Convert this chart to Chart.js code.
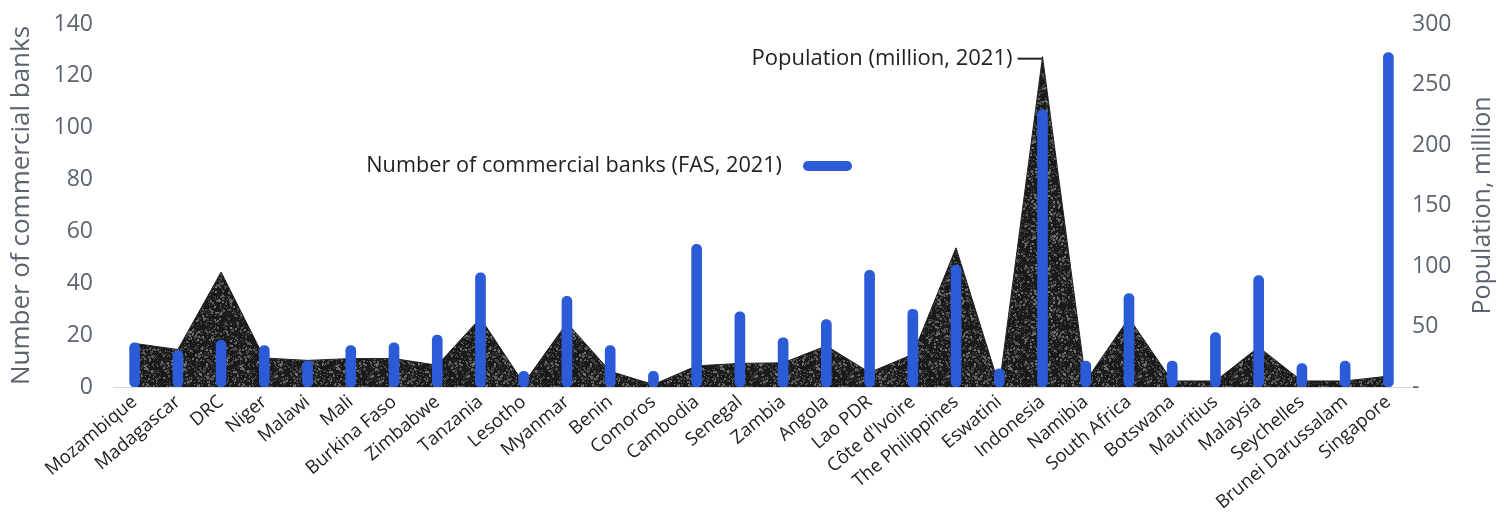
<!DOCTYPE html>
<html>
<head>
<meta charset="utf-8">
<script src="https://cdn.jsdelivr.net/npm/chart.js@4.4.1/dist/chart.umd.min.js"></script>
<style>
  html, body { margin: 0; padding: 0; background: #fff; }
  #wrap { width: 1509px; height: 515px; position: relative; }
</style>
</head>
<body>
<div id="wrap"><canvas id="chart"></canvas></div>
<script>
const countries = [
  "Mozambique", "Madagascar", "DRC", "Niger", "Malawi", "Mali", "Burkina Faso",
  "Zimbabwe", "Tanzania", "Lesotho", "Myanmar", "Benin", "Comoros", "Cambodia",
  "Senegal", "Zambia", "Angola", "Lao PDR", "Côte d'Ivoire", "The Philippines",
  "Eswatini", "Indonesia", "Namibia", "South Africa", "Botswana", "Mauritius",
  "Malaysia", "Seychelles", "Brunei Darussalam", "Singapore"
];
// number of commercial banks (left axis)
const banks = [
  17, 14, 18, 16, 10, 16, 17, 20, 44, 6, 35, 16, 6, 55, 29, 19, 26, 45, 30, 47,
  7, 107, 10, 36, 10, 21, 43, 9, 10, 129
];
// population, million (right axis)
const population = [
  36, 31, 95, 24, 22, 23.5, 23.5, 18, 57, 3, 53, 13, 2, 17.5, 19.5, 20, 34, 12,
  27, 115, 1, 273, 5, 57, 5, 5, 33, 5, 5, 9
];
const bankLabel = "Number of commercial banks (FAS, 2021)";
const popLabel = "Population (million, 2021)";
const leftTitle = "Number of commercial banks";
const rightTitle = "Population, million";

const FONT = "'Open Sans', sans-serif";
const BLUE = "#2b5bd7";
const GREY = "#5b6470";

// dark grainy fill like the original print texture
function grainPattern() {
  const c = document.createElement("canvas");
  c.width = 96;
  c.height = 96;
  const g = c.getContext("2d");
  g.fillStyle = "#1a1a1a";
  g.fillRect(0, 0, 96, 96);
  let seed = 12345;
  const rnd = () => {
    seed = (seed * 1103515245 + 12345) % 2147483648;
    return seed / 2147483648;
  };
  for (let i = 0; i < 1700; i++) {
    const x = Math.floor(rnd() * 96);
    const y = Math.floor(rnd() * 96);
    const v = 45 + Math.floor(rnd() * 75);
    g.fillStyle = `rgb(${v},${v},${v})`;
    const s = rnd() < 0.35 ? 2 : 1;
    g.fillRect(x, y, s, s);
  }
  return g.createPattern(c, "repeat");
}

const annotations = {
  id: "annotations",
  afterDatasetsDraw(chart) {
    const { ctx, chartArea, scales } = chart;
    ctx.save();
    // population label pointing at the Indonesia peak
    const px = scales.x.getPixelForValue(21);
    const py = scales.y1.getPixelForValue(population[21]) + 2;
    ctx.strokeStyle = "#222";
    ctx.lineWidth = 2;
    ctx.beginPath();
    ctx.moveTo(px - 25, py);
    ctx.lineTo(px, py);
    ctx.stroke();
    ctx.font = `22px ${FONT}`;
    ctx.fillStyle = "#222";
    ctx.textAlign = "right";
    ctx.textBaseline = "middle";
    ctx.fillText(popLabel, px - 30, py);
    // banks legend
    ctx.font = `21.7px ${FONT}`;
    ctx.fillText(bankLabel, 782, 166);
    ctx.strokeStyle = BLUE;
    ctx.lineWidth = 10;
    ctx.lineCap = "round";
    ctx.beginPath();
    ctx.moveTo(808, 166);
    ctx.lineTo(847, 166);
    ctx.stroke();
    // right axis title, reading bottom to top
    ctx.translate(1483, (chartArea.top + chartArea.bottom) / 2);
    ctx.rotate(-Math.PI / 2);
    ctx.textAlign = "center";
    ctx.fillStyle = GREY;
    ctx.font = `25px ${FONT}`;
    ctx.fillText(rightTitle, 0, 0);
    ctx.restore();
  },
};

new Chart(document.getElementById("chart"), {
  data: {
    labels: countries,
    datasets: [
      {
        type: "bar",
        label: bankLabel,
        data: banks,
        yAxisID: "y",
        backgroundColor: BLUE,
        barThickness: 10,
        borderRadius: 5,
        borderSkipped: false,
        order: 0,
      },
      {
        type: "line",
        label: popLabel,
        data: population,
        yAxisID: "y1",
        backgroundColor: grainPattern(),
        borderColor: "#222",
        borderWidth: 1,
        pointRadius: 0,
        tension: 0,
        fill: "origin",
        order: 1,
      },
    ],
  },
  options: {
    responsive: true,
    maintainAspectRatio: false,
    animation: false,
    layout: { padding: { top: 24, left: 0, right: 0, bottom: 0 } },
    plugins: { legend: { display: false }, tooltip: { enabled: false } },
    scales: {
      x: {
        offset: true,
        grid: { display: false, drawTicks: false },
        border: { display: true, color: "#d9d9d9", width: 1 },
        ticks: {
          color: "#222",
          font: { family: FONT, size: 18.5 },
          minRotation: 40,
          maxRotation: 40,
          autoSkip: false,
          padding: 4,
        },
        afterFit: (s) => { s.height = 128; },
      },
      y: {
        position: "left",
        min: 0,
        max: 140,
        grid: { display: false, drawTicks: false },
        border: { display: false },
        ticks: {
          stepSize: 20,
          color: GREY,
          font: { family: FONT, size: 23 },
          padding: 20,
        },
        title: {
          display: true,
          text: leftTitle,
          color: GREY,
          font: { family: FONT, size: 26 },
          padding: { top: 6, bottom: 0 },
        },
        afterFit: (s) => {
          s.width = 113;
          s.paddingTop = 8;
          s.paddingBottom = 0;
        },
      },
      y1: {
        position: "right",
        min: 0,
        max: 300,
        grid: { display: false, drawTicks: false },
        border: { display: false },
        ticks: {
          stepSize: 50,
          color: GREY,
          font: { family: FONT, size: 23 },
          padding: 2,
          callback: (v) => (v === 0 ? "-" : v),
        },
        afterFit: (s) => {
          s.width = 99;
          s.paddingTop = 8;
          s.paddingBottom = 0;
        },
      },
    },
  },
  plugins: [annotations],
});
</script>
</body>
</html>
